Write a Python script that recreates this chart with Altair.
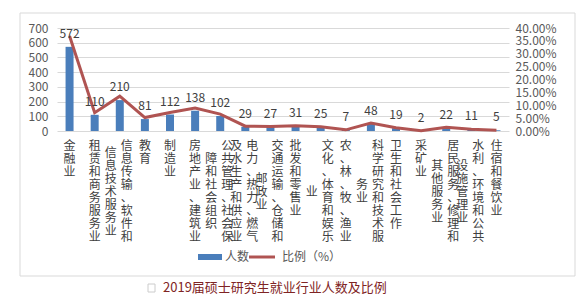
import altair as alt
import pandas as pd

categories = [
    "金融业", "租赁和商务服务业", "信息传输、软件和信息技术服务业", "教育", "制造业",
    "房地产业、建筑业", "公共管理、社会保障和社会组织", "电力、热力、燃气及水生产和供应业",
    "交通运输、仓储和邮政业", "批发和零售业", "文化、体育和娱乐业", "农、林、牧、渔业",
    "科学研究和技术服务业", "卫生和社会工作", "采矿业", "居民服务、修理和其他服务业",
    "水利、环境和公共设施管理业", "住宿和餐饮业",
]
counts = [572, 110, 210, 81, 112, 138, 102, 29, 27, 31, 25, 7, 48, 19, 2, 22, 11, 5]
ratios = [0.3688, 0.0709, 0.1354, 0.0522, 0.0722, 0.0890, 0.0658, 0.0187, 0.0174,
          0.0200, 0.0161, 0.0045, 0.0309, 0.0123, 0.0013, 0.0142, 0.0071, 0.0032]
count_ticks = [0, 100, 200, 300, 400, 500, 600, 700]
ratio_ticks = [0, 0.05, 0.1, 0.15, 0.2, 0.25, 0.3, 0.35, 0.4]

legend_labels = ["人数", "比例（%）"]
caption = "2019届硕士研究生就业行业人数及比例"

FONT = "Noto Sans CJK SC"
BAR = "#4A7EBB"
LINE = "#B05452"
W, H = 452, 103
PER_COL = 8

df = pd.DataFrame({"cat": categories, "count": counts, "ratio": ratios})

# vertical stacked label columns (8 chars per column, first column on the right,
# shorter columns centred against the full one)
rows = []
for c in categories:
    chunks = [c[i:i + PER_COL] for i in range(0, len(c), PER_COL)]
    if len(chunks) == 1:
        rows.append({"cat": c, "txt": "\n".join(chunks[0]), "kind": "single", "off": 0.0})
    else:
        rows.append({"cat": c, "txt": "\n".join(chunks[0]), "kind": "right", "off": 0.0})
        rows.append({"cat": c, "txt": "\n".join(chunks[1]), "kind": "left",
                     "off": (PER_COL - len(chunks[1])) / 2})
lab = pd.DataFrame(rows)

xenc = alt.X("cat:N", sort=categories,
             scale=alt.Scale(domain=categories, paddingInner=0, paddingOuter=0),
             axis=None)


def count_scale():
    return alt.Scale(domain=[0, 700], nice=False, zero=True)


bars = alt.Chart(df).mark_bar(size=8, color=BAR).encode(
    x=xenc,
    y=alt.Y("count:Q", scale=count_scale(),
            axis=alt.Axis(values=count_ticks, title=None, domain=False, orient="left",
                          ticks=False, grid=True, gridColor="#d9d9d9", labelPadding=9,
                          labelOverlap=False, labelFlush=False, labelBound=False)),
)
vals = alt.Chart(df).mark_text(baseline="alphabetic", dy=-9, fontSize=12,
                               color="#404040", font=FONT).encode(
    x=xenc, y=alt.Y("count:Q", scale=count_scale(), axis=None), text=alt.Text("count:Q"))

line = alt.Chart(df).mark_line(color=LINE, strokeWidth=3).encode(
    x=xenc,
    y=alt.Y("ratio:Q", scale=alt.Scale(domain=[0, 0.4], nice=False),
            axis=alt.Axis(orient="right", format=".2%", values=ratio_ticks,
                          title=None, domain=False, ticks=False, grid=False,
                          labelPadding=6, labelOverlap=False, labelFlush=False)),
)

LH = 13.0
yoff = alt.Y("off:Q", scale=alt.Scale(domain=[0, PER_COL], range=[113, 113 + PER_COL * LH]),
             axis=None)


def label_layer(kind, dx):
    return alt.Chart(lab).transform_filter(f"datum.kind == '{kind}'").mark_text(
        fontSize=12, color="#404040", font=FONT, lineBreak="\n", lineHeight=LH,
        baseline="top", dx=dx).encode(x=xenc, y=yoff, text="txt:N")


lab_single = label_layer("single", 0)
lab_right = label_layer("right", 7)
lab_left = label_layer("left", -9)

one = pd.DataFrame({"k": [0]})
frame = alt.Chart(one).mark_rect(fill=None, stroke="#d9d9d9", strokeWidth=1).encode(
    x=alt.value(-37), x2=alt.value(518), y=alt.value(-15), y2=alt.value(248))
leg_rect = alt.Chart(one).mark_rect(color=BAR).encode(
    x=alt.value(141), x2=alt.value(165), y=alt.value(226), y2=alt.value(232))
leg_line = alt.Chart(one).mark_rule(color=LINE, strokeWidth=3).encode(
    x=alt.value(192), x2=alt.value(218), y=alt.value(229))
leg_t1 = alt.Chart(one).mark_text(align="left", baseline="middle", fontSize=12,
                                  color="#595959", font=FONT).encode(
    x=alt.value(168), y=alt.value(229), text=alt.value(legend_labels[0]))
leg_t2 = alt.Chart(one).mark_text(align="left", baseline="middle", fontSize=12,
                                  color="#595959", font=FONT).encode(
    x=alt.value(225), y=alt.value(229), text=alt.value(legend_labels[1]))
icon = alt.Chart(one).mark_rect(fill=None, stroke="#cccccc", strokeWidth=1).encode(
    x=alt.value(91), x2=alt.value(98), y=alt.value(256), y2=alt.value(264))
cap = alt.Chart(one).mark_text(align="left", baseline="middle", fontSize=13,
                               color="#7F2424", font=FONT).encode(
    x=alt.value(106), y=alt.value(260), text=alt.value(caption))

chart = alt.layer(
    bars, line, vals,
    lab_single, lab_right, lab_left,
    frame, leg_rect, leg_line, leg_t1, leg_t2, icon, cap,
).resolve_scale(y="independent").resolve_axis(y="independent").properties(
    width=W, height=H,
    autosize=alt.AutoSizeParams(type="none"),
    padding={"left": 57, "top": 28, "right": 76, "bottom": 170},
    background="white",
).configure_view(strokeWidth=0).configure_axis(
    labelFont=FONT, labelFontSize=12, labelColor="#595959"
)

chart.save("out.html", embed_options={"renderer": "svg", "actions": False})
